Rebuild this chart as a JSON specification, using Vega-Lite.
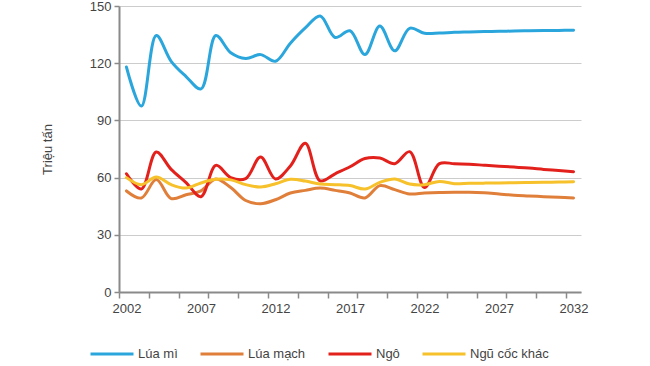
{
  "$schema": "https://vega.github.io/schema/vega-lite/v6.json",
  "width": 462,
  "height": 286,
  "autosize": "none",
  "padding": {"left": 119, "top": 6, "right": 69, "bottom": 74},
  "background": "white",
  "config": {
    "view": {"stroke": null},
    "font": "Liberation Sans"
  },
  "data": {
    "values": [
      {"year": 2002, "series": "Lúa mì", "value": 118},
      {"year": 2003, "series": "Lúa mì", "value": 97.5},
      {"year": 2004, "series": "Lúa mì", "value": 134.5},
      {"year": 2005, "series": "Lúa mì", "value": 121},
      {"year": 2006, "series": "Lúa mì", "value": 113},
      {"year": 2007, "series": "Lúa mì", "value": 106.5},
      {"year": 2008, "series": "Lúa mì", "value": 134.5},
      {"year": 2009, "series": "Lúa mì", "value": 125.5},
      {"year": 2010, "series": "Lúa mì", "value": 122.5},
      {"year": 2011, "series": "Lúa mì", "value": 124.5},
      {"year": 2012, "series": "Lúa mì", "value": 121},
      {"year": 2013, "series": "Lúa mì", "value": 130.5},
      {"year": 2014, "series": "Lúa mì", "value": 138.5},
      {"year": 2015, "series": "Lúa mì", "value": 144.8},
      {"year": 2016, "series": "Lúa mì", "value": 133.5},
      {"year": 2017, "series": "Lúa mì", "value": 137},
      {"year": 2018, "series": "Lúa mì", "value": 124.5},
      {"year": 2019, "series": "Lúa mì", "value": 139.5},
      {"year": 2020, "series": "Lúa mì", "value": 126.5},
      {"year": 2021, "series": "Lúa mì", "value": 138.3},
      {"year": 2022, "series": "Lúa mì", "value": 135.7},
      {"year": 2023, "series": "Lúa mì", "value": 135.8},
      {"year": 2024, "series": "Lúa mì", "value": 136.2},
      {"year": 2025, "series": "Lúa mì", "value": 136.4},
      {"year": 2026, "series": "Lúa mì", "value": 136.6},
      {"year": 2027, "series": "Lúa mì", "value": 136.7},
      {"year": 2028, "series": "Lúa mì", "value": 136.9},
      {"year": 2029, "series": "Lúa mì", "value": 137},
      {"year": 2030, "series": "Lúa mì", "value": 137.1},
      {"year": 2031, "series": "Lúa mì", "value": 137.2},
      {"year": 2032, "series": "Lúa mì", "value": 137.3},

      {"year": 2002, "series": "Lúa mạch", "value": 53},
      {"year": 2003, "series": "Lúa mạch", "value": 49.3},
      {"year": 2004, "series": "Lúa mạch", "value": 59},
      {"year": 2005, "series": "Lúa mạch", "value": 49},
      {"year": 2006, "series": "Lúa mạch", "value": 51},
      {"year": 2007, "series": "Lúa mạch", "value": 53},
      {"year": 2008, "series": "Lúa mạch", "value": 59.3},
      {"year": 2009, "series": "Lúa mạch", "value": 54.8},
      {"year": 2010, "series": "Lúa mạch", "value": 48},
      {"year": 2011, "series": "Lúa mạch", "value": 46.3},
      {"year": 2012, "series": "Lúa mạch", "value": 48.4},
      {"year": 2013, "series": "Lúa mạch", "value": 51.9},
      {"year": 2014, "series": "Lúa mạch", "value": 53.3},
      {"year": 2015, "series": "Lúa mạch", "value": 54.5},
      {"year": 2016, "series": "Lúa mạch", "value": 53.3},
      {"year": 2017, "series": "Lúa mạch", "value": 51.9},
      {"year": 2018, "series": "Lúa mạch", "value": 49.3},
      {"year": 2019, "series": "Lúa mạch", "value": 55.8},
      {"year": 2020, "series": "Lúa mạch", "value": 53.7},
      {"year": 2021, "series": "Lúa mạch", "value": 51.4},
      {"year": 2022, "series": "Lúa mạch", "value": 51.9},
      {"year": 2023, "series": "Lúa mạch", "value": 52.2},
      {"year": 2024, "series": "Lúa mạch", "value": 52.3},
      {"year": 2025, "series": "Lúa mạch", "value": 52.3},
      {"year": 2026, "series": "Lúa mạch", "value": 52},
      {"year": 2027, "series": "Lúa mạch", "value": 51.4},
      {"year": 2028, "series": "Lúa mạch", "value": 50.8},
      {"year": 2029, "series": "Lúa mạch", "value": 50.4},
      {"year": 2030, "series": "Lúa mạch", "value": 50},
      {"year": 2031, "series": "Lúa mạch", "value": 49.7},
      {"year": 2032, "series": "Lúa mạch", "value": 49.3},

      {"year": 2002, "series": "Ngô", "value": 62},
      {"year": 2003, "series": "Ngô", "value": 54},
      {"year": 2004, "series": "Ngô", "value": 73.4},
      {"year": 2005, "series": "Ngô", "value": 64.3},
      {"year": 2006, "series": "Ngô", "value": 57.4},
      {"year": 2007, "series": "Ngô", "value": 50},
      {"year": 2008, "series": "Ngô", "value": 66.4},
      {"year": 2009, "series": "Ngô", "value": 60},
      {"year": 2010, "series": "Ngô", "value": 59.5},
      {"year": 2011, "series": "Ngô", "value": 70.8},
      {"year": 2012, "series": "Ngô", "value": 59.3},
      {"year": 2013, "series": "Ngô", "value": 66.1},
      {"year": 2014, "series": "Ngô", "value": 78},
      {"year": 2015, "series": "Ngô", "value": 58.3},
      {"year": 2016, "series": "Ngô", "value": 62},
      {"year": 2017, "series": "Ngô", "value": 65.7},
      {"year": 2018, "series": "Ngô", "value": 70},
      {"year": 2019, "series": "Ngô", "value": 70.3},
      {"year": 2020, "series": "Ngô", "value": 67.3},
      {"year": 2021, "series": "Ngô", "value": 73.6},
      {"year": 2022, "series": "Ngô", "value": 54.8},
      {"year": 2023, "series": "Ngô", "value": 67.3},
      {"year": 2024, "series": "Ngô", "value": 67.3},
      {"year": 2025, "series": "Ngô", "value": 67},
      {"year": 2026, "series": "Ngô", "value": 66.5},
      {"year": 2027, "series": "Ngô", "value": 66},
      {"year": 2028, "series": "Ngô", "value": 65.5},
      {"year": 2029, "series": "Ngô", "value": 65},
      {"year": 2030, "series": "Ngô", "value": 64.3},
      {"year": 2031, "series": "Ngô", "value": 63.7},
      {"year": 2032, "series": "Ngô", "value": 63.1},

      {"year": 2002, "series": "Ngũ cốc khác", "value": 60},
      {"year": 2003, "series": "Ngũ cốc khác", "value": 56.3},
      {"year": 2004, "series": "Ngũ cốc khác", "value": 60.3},
      {"year": 2005, "series": "Ngũ cốc khác", "value": 56.3},
      {"year": 2006, "series": "Ngũ cốc khác", "value": 54.5},
      {"year": 2007, "series": "Ngũ cốc khác", "value": 57.2},
      {"year": 2008, "series": "Ngũ cốc khác", "value": 59.1},
      {"year": 2009, "series": "Ngũ cốc khác", "value": 58.8},
      {"year": 2010, "series": "Ngũ cốc khác", "value": 56.3},
      {"year": 2011, "series": "Ngũ cốc khác", "value": 55.1},
      {"year": 2012, "series": "Ngũ cốc khác", "value": 56.8},
      {"year": 2013, "series": "Ngũ cốc khác", "value": 59.1},
      {"year": 2014, "series": "Ngũ cốc khác", "value": 58.2},
      {"year": 2015, "series": "Ngũ cốc khác", "value": 56.6},
      {"year": 2016, "series": "Ngũ cốc khác", "value": 56.3},
      {"year": 2017, "series": "Ngũ cốc khác", "value": 55.8},
      {"year": 2018, "series": "Ngũ cốc khác", "value": 54},
      {"year": 2019, "series": "Ngũ cốc khác", "value": 57.5},
      {"year": 2020, "series": "Ngũ cốc khác", "value": 59.3},
      {"year": 2021, "series": "Ngũ cốc khác", "value": 56.6},
      {"year": 2022, "series": "Ngũ cốc khác", "value": 56.3},
      {"year": 2023, "series": "Ngũ cốc khác", "value": 58},
      {"year": 2024, "series": "Ngũ cốc khác", "value": 56.8},
      {"year": 2025, "series": "Ngũ cốc khác", "value": 57},
      {"year": 2026, "series": "Ngũ cốc khác", "value": 57.1},
      {"year": 2027, "series": "Ngũ cốc khác", "value": 57.2},
      {"year": 2028, "series": "Ngũ cốc khác", "value": 57.3},
      {"year": 2029, "series": "Ngũ cốc khác", "value": 57.4},
      {"year": 2030, "series": "Ngũ cốc khác", "value": 57.5},
      {"year": 2031, "series": "Ngũ cốc khác", "value": 57.7},
      {"year": 2032, "series": "Ngũ cốc khác", "value": 57.8}
    ]
  },
  "mark": {"type": "line", "interpolate": "catmull-rom", "strokeWidth": 3, "strokeCap": "round"},
  "encoding": {
    "x": {
      "field": "year",
      "type": "quantitative",
      "scale": {"domain": [2001.5, 2032.5], "nice": false, "zero": false},
      "axis": {
        "title": null,
        "grid": false,
        "values": [2001.5, 2002, 2003.5, 2005.5, 2007, 2007.5, 2009.5, 2011.5, 2012, 2013.5, 2015.5, 2017, 2017.5, 2019.5, 2021.5, 2022, 2023.5, 2025.5, 2027, 2027.5, 2029.5, 2031.5, 2032],
        "format": "d",
        "labelExpr": "datum.value % 5 == 2 ? datum.label : ''",
        "labelOverlap": false,
        "labelFlush": false,
        "labelBound": false,
        "tickOpacity": {"condition": {"test": "datum.value % 1 != 0", "value": 1}, "value": 0},
        "tickSize": 6,
        "tickWidth": 1.5,
        "tickColor": "#8a8a8a",
        "domainColor": "#8a8a8a",
        "domainWidth": 2,
        "labelPadding": 4,
        "labelFont": "Liberation Sans",
        "labelFontSize": 13,
        "labelColor": "#444444"
      }
    },
    "y": {
      "field": "value",
      "type": "quantitative",
      "scale": {"domain": [0, 150], "nice": false},
      "axis": {
        "title": "Triệu tấn",
        "titleX": -72,
        "titleY": 143,
        "titleAngle": -90,
        "titleAlign": "center",
        "titleBaseline": "middle",
        "titleFont": "Liberation Sans",
        "titleFontSize": 13,
        "titleFontWeight": "normal",
        "titleColor": "#444444",
        "values": [0, 30, 60, 90, 120, 150],
        "grid": true,
        "gridColor": "#cccccc",
        "gridWidth": 1,
        "domainColor": "#8a8a8a",
        "domainWidth": 2,
        "tickColor": "#8a8a8a",
        "tickSize": 5,
        "tickWidth": 1.5,
        "labelPadding": 3,
        "labelFont": "Liberation Sans",
        "labelFontSize": 13,
        "labelColor": "#444444"
      }
    },
    "color": {
      "field": "series",
      "type": "nominal",
      "sort": null,
      "scale": {
        "domain": ["Lúa mì", "Lúa mạch", "Ngô", "Ngũ cốc khác"],
        "range": ["#2ba6dc", "#e07f3a", "#e3211c", "#f6c12a"]
      },
      "legend": {
        "title": null,
        "orient": "none",
        "legendX": -30,
        "legendY": 325,
        "direction": "horizontal",
        "symbolType": "stroke",
        "symbolStrokeWidth": 3,
        "symbolSize": 1849,
        "symbolOpacity": 1,
        "gridAlign": "none",
        "columnPadding": 16,
        "labelOffset": 3,
        "labelFont": "Liberation Sans",
        "labelFontSize": 13,
        "labelColor": "#444444",
        "labelLimit": 200
      }
    }
  }
}
